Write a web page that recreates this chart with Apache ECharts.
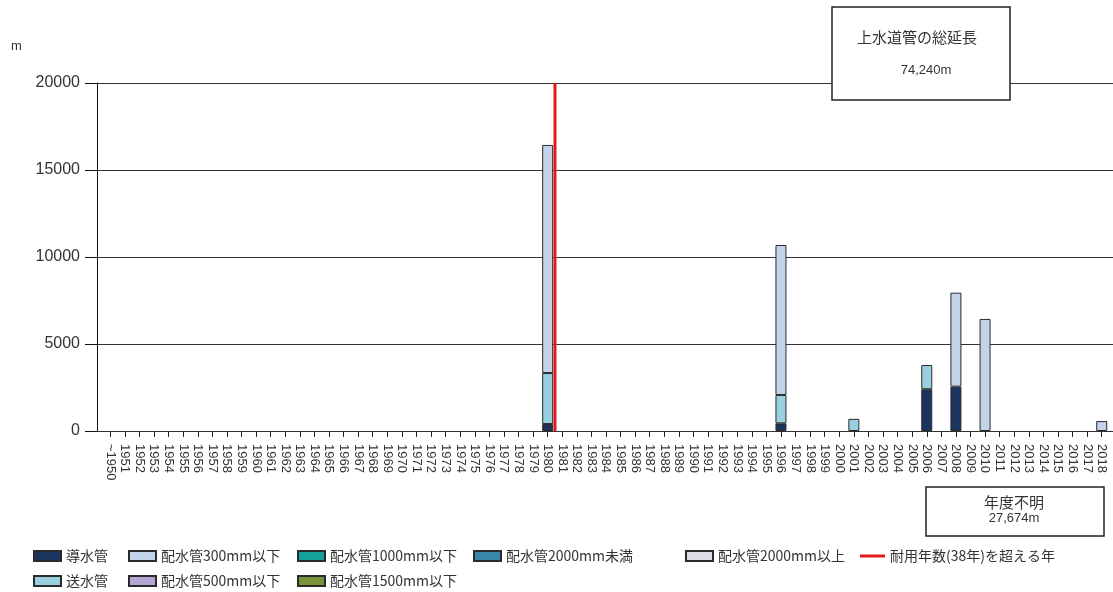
<!DOCTYPE html>
<html>
<head>
<meta charset="utf-8">
<script src="https://cdn.jsdelivr.net/npm/echarts@6/dist/echarts.min.js"></script>
<style>
html,body{margin:0;padding:0;background:#fff;}
#chart{width:1113px;height:592px;}
</style>
</head>
<body>
<div id="chart"></div>
<script>
const categories = ['~1950','1951','1952','1953','1954','1955','1956','1957','1958','1959','1960','1961','1962','1963','1964','1965','1966','1967','1968','1969','1970','1971','1972','1973','1974','1975','1976','1977','1978','1979','1980','1981','1982','1983','1984','1985','1986','1987','1988','1989','1990','1991','1992','1993','1994','1995','1996','1997','1998','1999','2000','2001','2002','2003','2004','2005','2006','2007','2008','2009','2010','2011','2012','2013','2014','2015','2016','2017','2018'];
const yTicks = [0, 5000, 10000, 15000, 20000];

// values (m) by year, only non-empty years
const dousuikan = {'1980': 400, '1996': 440, '2006': 2400, '2008': 2550};
const sousuikan = {'1980': 2930, '1996': 1630, '2001': 700, '2006': 1390};
const haisui300 = {'1980': 13110, '1996': 8620, '2008': 5400, '2010': 6440, '2018': 570};
const haisui500 = {};
const haisui1000 = {};
const haisui1500 = {};
const haisui2000u = {};
const haisui2000o = {};
const exceedStartYear = '1981'; // first year exceeding 38-year life
const totalLengthTitle = '上水道管の総延長';
const totalLengthText = '74,240m';
const unknownYearTitle = '年度不明';
const unknownYearText = '27,674m';

const seriesDefs = [
  ['導水管', dousuikan, '#1c3560'],
  ['送水管', sousuikan, '#98d0df'],
  ['配水管300mm以下', haisui300, '#c2d3ea'],
  ['配水管500mm以下', haisui500, '#b3a6d4'],
  ['配水管1000mm以下', haisui1000, '#17a19d'],
  ['配水管1500mm以下', haisui1500, '#77933c'],
  ['配水管2000mm未満', haisui2000u, '#3787a6'],
  ['配水管2000mm以上', haisui2000o, '#dcdce9']
];
const lineName = '耐用年数(38年)を超える年';
const lineColor = '#e3191c';

const chart = echarts.init(document.getElementById('chart'), null, {renderer: 'canvas'});
const font = 'Liberation Sans, Arial, sans-serif';
const jfont = 'Noto Sans CJK JP';

const series = seriesDefs.map(([name, obj, color]) => ({
  name, type: 'bar', stack: 'total', xAxisIndex: 1, yAxisIndex: 1,
  barWidth: 11,
  data: categories.map(c => (obj[c] !== undefined ? obj[c] : null)),
  itemStyle: {color, borderColor: '#2a2a2a', borderWidth: 1},
  emphasis: {disabled: true}
}));
const bIdx = categories.indexOf(exceedStartYear) - 0.5;
series.push({
  name: lineName, type: 'line', xAxisIndex: 2, yAxisIndex: 1,
  data: [[bIdx, yTicks[0]], [bIdx, yTicks[yTicks.length - 1]]],
  symbol: 'none', z: 10,
  lineStyle: {color: lineColor, width: 3},
  itemStyle: {color: lineColor}
});

// legend layout: [name, left, row]
const legendPos = [
  ['導水管', 33, 0], ['送水管', 33, 1],
  ['配水管300mm以下', 128, 0], ['配水管500mm以下', 128, 1],
  ['配水管1000mm以下', 297, 0], ['配水管1500mm以下', 297, 1],
  ['配水管2000mm未満', 473, 0], ['配水管2000mm以上', 685, 0],
  [lineName, 860, 0]
];
const legends = legendPos.map(([name, left, row]) => {
  const isLine = name === lineName;
  return {
    left, top: (row === 0 ? 556 : 581) - 8, padding: 0,
    itemWidth: isLine ? 25 : 27, itemHeight: isLine ? 3 : 10,
    selectedMode: false,
    textStyle: {fontFamily: jfont, fontSize: 14, color: '#333', lineHeight: 16},
    data: [isLine ? {name, icon: 'rect', itemStyle: {color: lineColor, borderWidth: 0}} : {name, icon: 'rect'}]
  };
});

const option = {
  animation: false,
  backgroundColor: '#fff',
  grid: [
    {left: 97, right: 0, top: 83, bottom: 161},
    {left: 103, right: 4, top: 83, bottom: 161}
  ],
  xAxis: [
    {gridIndex: 0, type: 'category', data: categories, show: false},
    {gridIndex: 1, type: 'category', data: categories, boundaryGap: true,
      axisLine: {show: false},
      axisTick: {show: true, alignWithLabel: true, interval: 0, length: 6, lineStyle: {color: '#222'}},
      axisLabel: {interval: 0, rotate: -90, margin: 13, fontFamily: font, fontSize: 13, color: '#333'}
    },
    {gridIndex: 1, type: 'value', min: -0.5, max: categories.length - 0.5, show: false}
  ],
  yAxis: [
    {gridIndex: 0, type: 'value', min: yTicks[0], max: yTicks[yTicks.length - 1], interval: yTicks[1] - yTicks[0],
      axisLine: {show: true, lineStyle: {color: '#111', width: 1}},
      axisTick: {show: true, length: 12, lineStyle: {color: '#111'}},
      axisLabel: {margin: 17, fontFamily: font, fontSize: 16, color: '#333', formatter: v => String(v)},
      splitLine: {show: true, lineStyle: {color: '#333', width: 1}}
    },
    {gridIndex: 1, type: 'value', min: yTicks[0], max: yTicks[yTicks.length - 1], interval: yTicks[1] - yTicks[0], show: false, splitLine: {show: false}}
  ],
  legend: legends,
  graphic: [
    {type: 'text', left: 11, top: 40, style: {text: 'm', font: '13px ' + font, fill: '#333'}},
    {type: 'rect', z: 100, shape: {x: 832, y: 7, width: 178, height: 93}, style: {fill: '#fff', stroke: '#222', lineWidth: 1.5}},
    {type: 'text', z: 101, x: 917, y: 37, style: {text: totalLengthTitle, font: '15px "' + jfont + '"', fill: '#333', align: 'center', verticalAlign: 'middle'}},
    {type: 'text', z: 101, x: 926, y: 70, style: {text: totalLengthText, font: '13px ' + font, fill: '#333', align: 'center', verticalAlign: 'middle'}},
    {type: 'rect', z: 100, shape: {x: 926, y: 487, width: 178, height: 49}, style: {fill: '#fff', stroke: '#222', lineWidth: 1.5}},
    {type: 'text', z: 101, x: 1014, y: 502, style: {text: unknownYearTitle, font: '15px "' + jfont + '"', fill: '#333', align: 'center', verticalAlign: 'middle'}},
    {type: 'text', z: 101, x: 1014, y: 518, style: {text: unknownYearText, font: '13px ' + font, fill: '#333', align: 'center', verticalAlign: 'middle'}}
  ],
  series
};
chart.setOption(option);
</script>
</body>
</html>
